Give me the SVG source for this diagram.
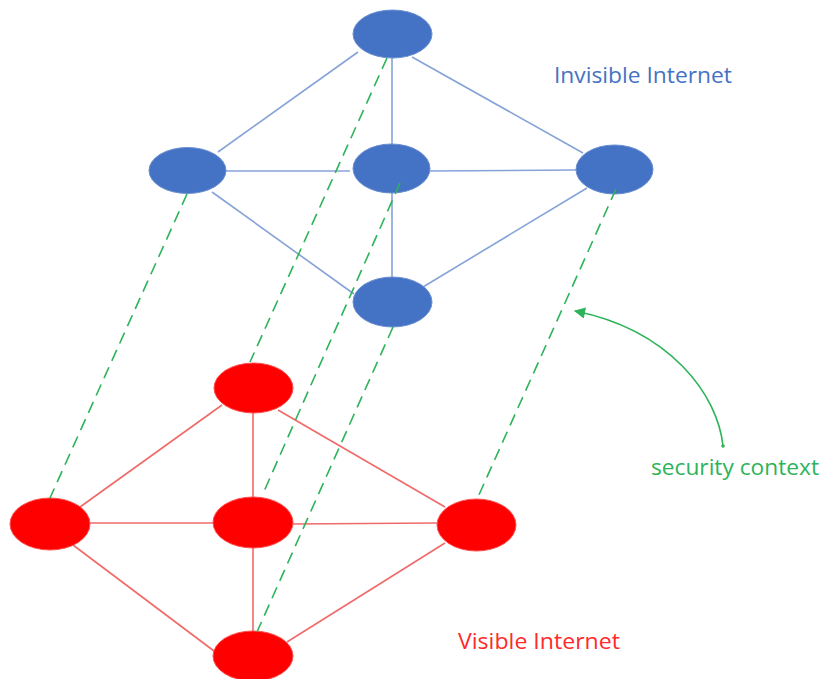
<svg xmlns="http://www.w3.org/2000/svg" width="831" height="679" viewBox="0 0 831 679">
<style>
.bn{fill:#4472c4;stroke:#6a8fd0;stroke-width:1}
.rn{fill:#ff0000;stroke:#ff5050;stroke-width:1}
.be{stroke:#86a3d8;stroke-width:1.6;fill:none}
.re{stroke:#f06a6a;stroke-width:1.6;fill:none}
.ctx{stroke:#2db35a;stroke-width:1.6;stroke-dasharray:12 7;fill:none}
.lbl{font-family:"Open Sans","Liberation Sans",Arial,sans-serif;font-size:21px}
</style>
<defs>
<marker id="ah" viewBox="0 0 10 10" refX="9" refY="5" markerWidth="8.5" markerHeight="7" markerUnits="strokeWidth" orient="auto">
<path d="M0,0 L10,5 L0,10 z" fill="#2db35a"/>
</marker>
</defs>
<rect width="831" height="679" fill="#ffffff"/>
<g id="edges">
<line class="be" x1="358" y1="52" x2="218" y2="152"/>
<line class="be" x1="392" y1="58" x2="392" y2="145"/>
<line class="be" x1="412" y1="57" x2="583" y2="153"/>
<line class="be" x1="226" y1="171" x2="350" y2="171"/>
<line class="be" x1="430" y1="171" x2="576" y2="170"/>
<line class="be" x1="212" y1="192" x2="354" y2="294"/>
<line class="be" x1="392" y1="193" x2="392" y2="277"/>
<line class="be" x1="587" y1="188" x2="423" y2="287"/>
<line class="re" x1="222" y1="405" x2="80" y2="507"/>
<line class="re" x1="253" y1="413" x2="253" y2="497"/>
<line class="re" x1="278" y1="410" x2="445" y2="507"/>
<line class="re" x1="90" y1="523" x2="213" y2="523"/>
<line class="re" x1="293" y1="524" x2="437" y2="523"/>
<line class="re" x1="73" y1="545" x2="214" y2="651"/>
<line class="re" x1="253" y1="548" x2="253" y2="631"/>
<line class="re" x1="445" y1="543" x2="287" y2="642"/>
</g>
<g id="blue-top"><ellipse class="bn" cx="392.5" cy="34" rx="39.5" ry="24"/></g>
<g id="blue-left"><ellipse class="bn" cx="187.5" cy="170.5" rx="38.5" ry="23"/></g>
<g id="blue-center"><ellipse class="bn" cx="391.5" cy="168.5" rx="38.5" ry="24.5"/></g>
<g id="blue-right"><ellipse class="bn" cx="614.5" cy="169.5" rx="38.5" ry="24.5"/></g>
<g id="blue-bottom"><ellipse class="bn" cx="392.5" cy="302" rx="39.5" ry="25"/></g>
<g id="red-top"><ellipse class="rn" cx="253.5" cy="388" rx="39.5" ry="25"/></g>
<g id="red-left"><ellipse class="rn" cx="50" cy="524" rx="40" ry="26"/></g>
<g id="red-center"><ellipse class="rn" cx="253" cy="522.5" rx="40" ry="25.5"/></g>
<g id="red-right"><ellipse class="rn" cx="476.5" cy="525" rx="39.5" ry="26"/></g>
<g id="red-bottom"><ellipse class="rn" cx="253" cy="656" rx="40" ry="25"/></g>
<g id="connectors">
<line class="ctx" x1="387" y1="58" x2="250" y2="362"/>
<line class="ctx" x1="187" y1="194" x2="50" y2="498"/>
<line class="ctx" x1="400" y1="183" x2="262" y2="496"/>
<line class="ctx" x1="616" y1="189" x2="478" y2="497"/>
<line class="ctx" x1="393" y1="327" x2="257" y2="632"/>
<path d="M723,446 C718,395 670,330 575,311" stroke="#2db35a" stroke-width="1.6" fill="none" marker-end="url(#ah)"/>
<circle cx="723" cy="446" r="1.8" fill="#2db35a"/>
</g>
<g id="labels">
<text class="lbl" x="554" y="83" fill="#4472c4" textLength="178" lengthAdjust="spacingAndGlyphs">Invisible Internet</text>
<text class="lbl" x="651" y="475" fill="#2db35a" textLength="168" lengthAdjust="spacingAndGlyphs">security context</text>
<text class="lbl" x="458" y="649" fill="#ff2a2a" textLength="162" lengthAdjust="spacingAndGlyphs">Visible Internet</text>
</g>
</svg>
